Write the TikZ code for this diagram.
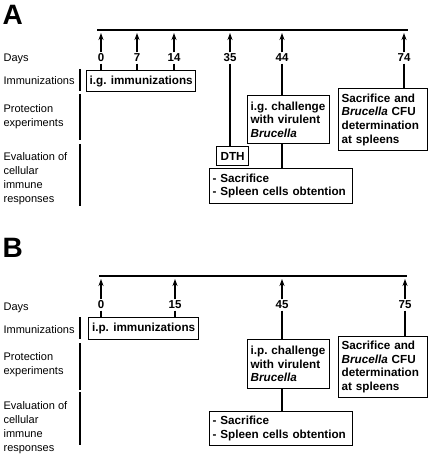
\documentclass[tikz,border=0pt]{standalone}
\usepackage{fontspec}
\setmainfont{Liberation Sans}
\usetikzlibrary{arrows.meta}
\hyphenpenalty=10000
\hfuzz=5pt
\tikzset{
  rowlabel/.style={anchor=west,align=left,inner sep=0pt,font=\fontsize{11}{14}\selectfont},
  daylabel/.style={inner sep=1pt,font=\fontsize{11.5}{12}\selectfont\bfseries},
  stepbox/.style={draw,anchor=north west,align=left,inner xsep=3pt,inner ysep=1pt,
    font=\fontsize{11.7}{13.7}\selectfont\bfseries},
  panel/.style={anchor=north west,inner sep=0pt,font=\fontsize{28}{28}\selectfont\bfseries},
}
\begin{document}
\begin{tikzpicture}[x=1pt,y=-1pt,>={Stealth[length=7pt,width=5pt]},line width=1.2pt]
\useasboundingbox (0,0) rectangle (430,457);
% panel A
\node[panel] (pa) at (2,5) {A};
\draw (97,30) -- (408,30);
\foreach \d/\x in {0/101,7/137,14/174,35/230,44/282,74/404}{
  \node[daylabel] (a\d) at (\x,58) {\d};
  \coordinate (ta\d) at (\x,33);
  \draw[->] (a\d) -- (ta\d);
}
\node[rowlabel] (daysA) at (3,59) {Days};
\node[rowlabel] (immlA) at (3,81) {Immunizations};
\node[rowlabel] (protA) at (3,116.5) {Protection\\experiments};
\node[rowlabel] (evalA) at (3,179) {Evaluation of\\cellular\\immune\\responses};
\draw (80,69) -- (80,91) (80,94) -- (80,140) (80,144) -- (80,206);
\node[stepbox,minimum width=109pt,minimum height=21pt] (immA) at (86,70) {i.g. immunizations};
\node[stepbox,minimum width=32pt,minimum height=19pt] (dth) at (216,146) {DTH};
\node[stepbox,text width=76pt,minimum height=48pt] (chA) at (247,95) {i.g.~challenge\\with virulent\\\textit{Brucella}};
\node[stepbox,text width=137pt,minimum height=35pt] (sacA) at (209,168) {- Sacrifice\\- Spleen cells obtention};
\node[stepbox,text width=83pt,minimum height=62pt] (cfuA) at (338,88) {Sacrifice and\\\textit{Brucella} CFU\\determination\\at spleens};
\foreach \d in {0,7,14}
  \draw (a\d) -- (a\d |- immA.north);
\draw (a35) -- (a35 |- dth.north);
\draw (a44) -- (a44 |- chA.north);
\draw (a44 |- chA.south) -- (a44 |- sacA.north);
\draw (a74) -- (a74 |- cfuA.north);
% panel B
\node[panel] (pb) at (2,238) {B};
\draw (99,276) -- (407,276);
\foreach \d/\x in {0/101,15/175,45/282,75/405}{
  \node[daylabel] (b\d) at (\x,305) {\d};
  \coordinate (tb\d) at (\x,279);
  \draw[->] (b\d) -- (tb\d);
}
\node[rowlabel] (daysB) at (3,308) {Days};
\node[rowlabel] (immlB) at (3,330) {Immunizations};
\node[rowlabel] (protB) at (3,365) {Protection\\experiments};
\node[rowlabel] (evalB) at (3,428) {Evaluation of\\cellular\\immune\\responses};
\draw (80,317) -- (80,339) (80,343) -- (80,390) (80,392) -- (80,445);
\node[stepbox,minimum width=110pt,minimum height=22pt] (immB) at (88,317) {i.p. immunizations};
\node[stepbox,text width=76pt,minimum height=49pt] (chB) at (247,339) {i.p.~challenge\\with virulent\\\textit{Brucella}};
\node[stepbox,text width=137pt,minimum height=34pt] (sacB) at (209,411) {- Sacrifice\\- Spleen cells obtention};
\node[stepbox,text width=83pt,minimum height=61pt] (cfuB) at (338,336) {Sacrifice and\\\textit{Brucella} CFU\\determination\\at spleens};
\foreach \d in {0,15}
  \draw (b\d) -- (b\d |- immB.north);
\draw (b45) -- (b45 |- chB.north);
\draw (b45 |- chB.south) -- (b45 |- sacB.north);
\draw (b75) -- (b75 |- cfuB.north);
\end{tikzpicture}
\end{document}
